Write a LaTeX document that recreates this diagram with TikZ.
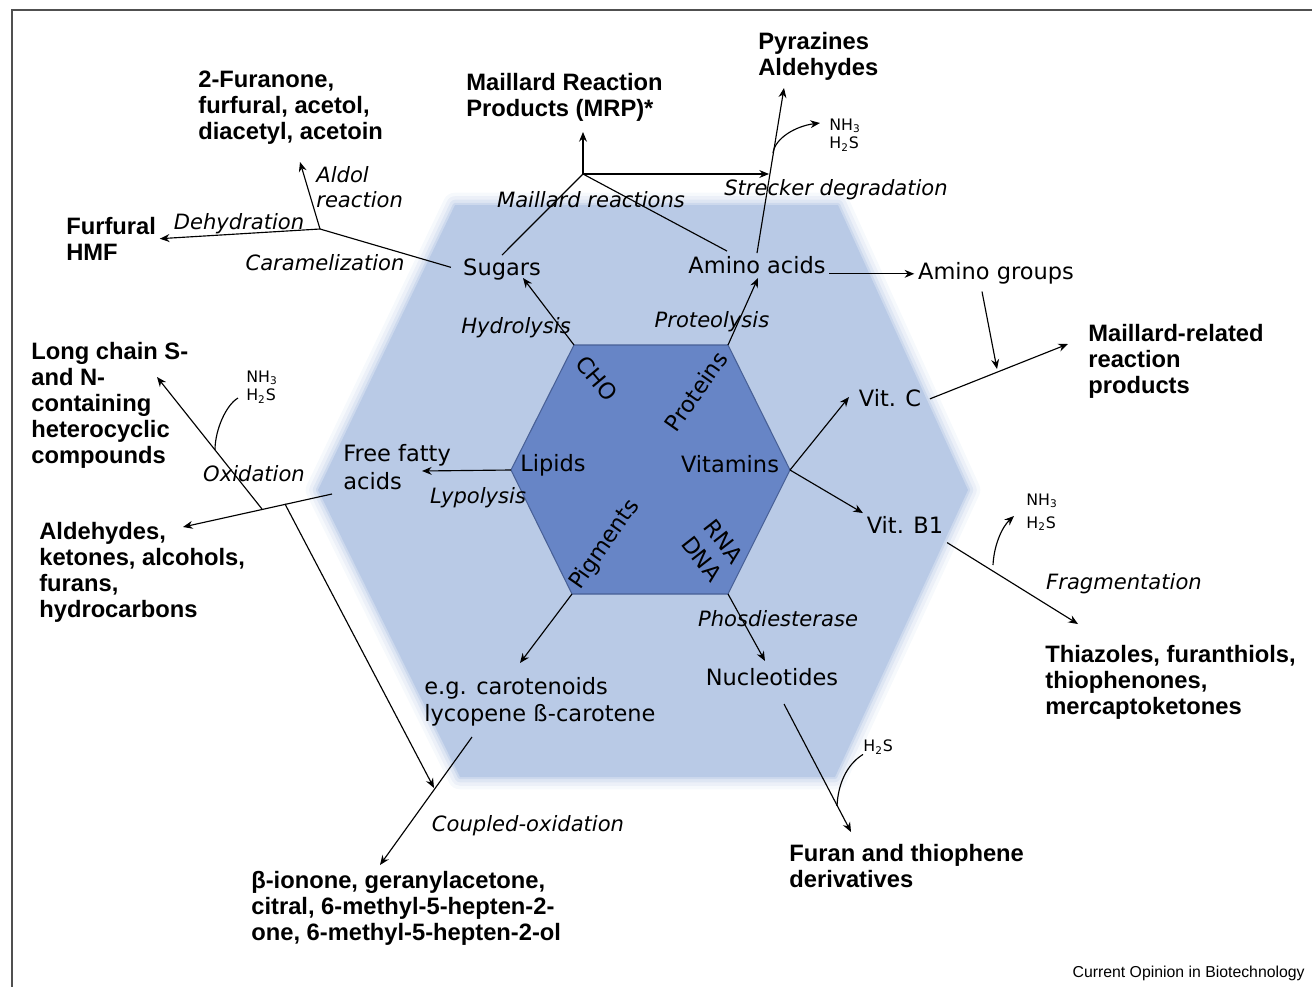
\documentclass[tikz,border=0pt]{standalone}
\usepackage{fontspec}
\setmainfont{DejaVu Sans}
\newfontfamily\prodfont{Liberation Sans}
\usetikzlibrary{arrows.meta}
\definecolor{hexlight}{RGB}{185,202,230}
\definecolor{hexdark}{RGB}{103,133,198}
\definecolor{hexline}{RGB}{72,96,150}
\definecolor{framegray}{RGB}{80,80,80}
\tikzset{
  hexcore/.style={fill=hexdark, draw=hexline, line width=0.6pt},
  cmpd/.style   ={font=\fontsize{12.8}{15.3}\selectfont, inner sep=2pt,
                  text height=9.6pt, text depth=2.8pt, yshift=-1.6pt},
  cmpdm/.style  ={font=\fontsize{12.8}{15.6}\selectfont, inner sep=0pt,
                  align=left, anchor=west},
  rxn/.style    ={font=\fontsize{12}{14.2}\selectfont\itshape, inner sep=1pt,
                  text height=9pt, text depth=2.6pt, yshift=-1.6pt},
  rxnm/.style   ={font=\fontsize{12}{14.2}\selectfont\itshape, inner sep=0pt,
                  align=left, anchor=west},
  prod/.style   ={font=\prodfont\bfseries\fontsize{13.5}{14.75}\selectfont,
                  inner sep=0pt, align=left, anchor=north west},
  chem/.style   ={font=\fontsize{9}{10.3}\selectfont, inner sep=0pt,
                  align=left, anchor=west},
  capt/.style   ={font=\prodfont\fontsize{9}{11}\selectfont, inner sep=0pt,
                  anchor=base east},
  arr/.style    ={-{Stealth[length=5.5pt, width=4.5pt, inset=1.8pt]},
                  line width=0.65pt},
  ln/.style     ={line width=0.65pt},
}
\begin{document}
\begin{tikzpicture}[x=0.02cm, y=-0.02cm]
  \useasboundingbox (0,0) rectangle (1312,987);
  \draw[framegray, line width=1.2pt] (12,987) -- (12,10) -- (1312,10);

  \coordinate (H1) at (455,205);
  \coordinate (H2) at (838,205);
  \coordinate (H3) at (968,490);
  \coordinate (H4) at (835,777);
  \coordinate (H5) at (460,777);
  \coordinate (H6) at (318,490);
  \foreach \w/\o in {14pt/0.12, 10pt/0.18, 6pt/0.28, 2.5pt/0.45}
    \draw[hexlight, line width=\w, opacity=\o, line join=round]
      (H1) -- (H2) -- (H3) -- (H4) -- (H5) -- (H6) -- cycle;
  \fill[hexlight] (H1) -- (H2) -- (H3) -- (H4) -- (H5) -- (H6) -- cycle;

  \coordinate (h1) at (574,345);
  \coordinate (h2) at (728,345);
  \coordinate (h3) at (790,470);
  \coordinate (h4) at (728,594);
  \coordinate (h5) at (572,594);
  \coordinate (h6) at (511,470);
  \draw[hexcore] (h1) -- (h2) -- (h3) -- (h4) -- (h5) -- (h6) -- cycle;

  \node[cmpd, rotate=-50] (cho) at (595,377) {CHO};
  \node[cmpd, rotate=55] (prt) at (698,390) {Proteins};
  \node[cmpd] (lip) at (553,463) {Lipids};
  \node[cmpd] (vit) at (730,464) {Vitamins};
  \node[cmpd, rotate=55] (pig) at (605,542) {Pigments};
  \node[cmpdm, font=\fontsize{12.8}{16}\selectfont, align=center,
        anchor=center, rotate=-52] (rna) at (713,550) {RNA\\DNA};

  \node[cmpd] (sug) at (502,267) {Sugars};
  \node[cmpd] (amac) at (757,265) {Amino acids};
  \node[cmpd] (amgr) at (996,271) {Amino groups};
  \node[cmpd] (vitc) at (890,398) {Vit. C};
  \node[cmpd] (vitb) at (905,525) {Vit. B1};
  \node[cmpd] (nuc) at (772,677) {Nucleotides};
  \node[cmpdm] (ffa) at (343,467) {Free fatty\\acids};
  \node[cmpdm] (car) at (424,702) {e.g. carotenoids\\lycopene ß-carotene};

  \node[rxnm] (aldr) at (316,187) {Aldol\\reaction};
  \node[rxn] (dehy) at (239,221) {Dehydration};
  \node[rxn] (cara) at (325,262) {Caramelization};
  \node[rxn] (mair) at (591,199) {Maillard reactions};
  \node[rxn] (strd) at (836,187) {Strecker degradation};
  \node[rxn] (hydr) at (516,325) {Hydrolysis};
  \node[rxn] (prtl) at (712,319) {Proteolysis};
  \node[rxn] (oxid) at (254,473) {Oxidation};
  \node[rxn] (lypo) at (478,495) {Lypolysis};
  \node[rxn] (frag) at (1124,581) {Fragmentation};
  \node[rxn] (phos) at (778,618) {Phosdiesterase};
  \node[rxn] (coup) at (528,823) {Coupled-oxidation};

  \node[prod] (furn) at (198,71) {2-Furanone,\\furfural, acetol,\\diacetyl, acetoin};
  \node[prod] (hmf) at (66,217) {Furfural\\HMF};
  \node[prod] (mrp) at (466,73) {Maillard Reaction\\Products (MRP)*};
  \node[prod] (pyr) at (758,32) {Pyrazines\\Aldehydes};
  \node[prod] (mrrp) at (1088,324) {Maillard-related\\reaction\\products};
  \node[prod] (lcsn) at (31,342)
    {Long chain S-\\and N-\\containing\\heterocyclic\\compounds};
  \node[prod] (aldk) at (39,522)
    {Aldehydes,\\ketones, alcohols,\\furans,\\hydrocarbons};
  \node[prod] (thia) at (1045,645)
    {Thiazoles, furanthiols,\\thiophenones,\\mercaptoketones};
  \node[prod] (iono) at (251,871)
    {β-ionone, geranylacetone,\\citral, 6-methyl-5-hepten-2-\\one, 6-methyl-5-hepten-2-ol};
  \node[prod] (furd) at (789,844) {Furan and thiophene\\derivatives};
  \node[capt] (src) at (1305,977) {Current Opinion in Biotechnology};

  \node[chem] (nh1) at (829,135) {NH\textsubscript{3}\\H\textsubscript{2}S};
  \node[chem] (nh2) at (246,387) {NH\textsubscript{3}\\H\textsubscript{2}S};
  \node[chem, font=\fontsize{9}{13}\selectfont] (nh3) at (1026,512)
    {NH\textsubscript{3}\\H\textsubscript{2}S};
  \node[chem] (hs4) at (863,747) {H\textsubscript{2}S};

  \coordinate (jcar) at (320,229);
  \coordinate (tald) at (300,162);
  \coordinate (jmai) at (583,174);
  \coordinate (tmrp) at (583,132);
  \coordinate (tstr) at (769,174);
  \coordinate (tpyr) at (784,88);
  \coordinate (jstr) at (773,153);
  \coordinate (tnh1) at (820,123);
  \coordinate (tvc) at (997,369);
  \coordinate (tmr) at (1068,344);
  \coordinate (tvitc) at (849,397);
  \coordinate (tthz) at (1078,624);
  \coordinate (jvb) at (993,565);
  \coordinate (tnh3) at (1014,516);
  \coordinate (tsug) at (523,278);
  \coordinate (tamac) at (758,278);
  \coordinate (tffa) at (422,471);
  \coordinate (sffa) at (332,494);
  \coordinate (taldk) at (183,527);
  \coordinate (jox1) at (262,509);
  \coordinate (jox2) at (285,504);
  \coordinate (jox3) at (215,450);
  \coordinate (tlcs) at (157,377);
  \coordinate (tion1) at (434,788);
  \coordinate (enh2) at (238,398);
  \coordinate (tcar) at (520,663);
  \coordinate (scar) at (472,737);
  \coordinate (tion2) at (380,865);
  \coordinate (tnuc) at (765,661);
  \coordinate (snuc) at (784,704);
  \coordinate (tfth) at (851,832);
  \coordinate (jnuc) at (837,806);

  \draw[ln, shorten <=5pt] (sug.west) -- (jcar);
  \draw[arr, shorten >=2pt] (jcar) -- (hmf.east);
  \draw[arr] (jcar) -- (tald);
  \draw[ln] (sug.north) -- (jmai);
  \draw[ln] (amac.north) ++(-30,-2) -- (jmai);
  \draw[arr] (jmai) -- (tmrp);
  \draw[arr] (jmai) -- (tstr);
  \draw[arr] (amac.north) -- (tpyr);
  \draw[arr] (jstr) .. controls (775,138) and (796,126) .. (tnh1);
  \draw[arr] (amac.east |- amgr) -- (amgr.west);
  \draw[arr] (amgr.south) ++(-14,3) -- (tvc);
  \draw[arr, shorten <=3pt] (vitc.east) -- (tmr);
  \draw[arr] (h3) -- (tvitc);
  \draw[arr] (h3) -- (vitb.north west);
  \draw[arr] (vitb.south east) -- (tthz);
  \draw[arr] (jvb) .. controls (994,545) and (1002,527) .. (tnh3);
  \draw[arr] (h1) -- (tsug);
  \draw[arr] (h2) -- (tamac);
  \draw[arr] (h6) -- (tffa);
  \draw[arr] (sffa) -- (taldk);
  \draw[arr] (jox1) -- (tlcs);
  \draw[arr] (jox2) -- (tion1);
  \draw[ln] (jox3) .. controls (215,430) and (226,405) .. (enh2);
  \draw[arr] (h5) -- (tcar);
  \draw[arr] (scar) -- (tion2);
  \draw[arr] (h4) -- (tnuc);
  \draw[arr] (snuc) -- (tfth);
  \draw[ln] (hs4.south west) .. controls (846,765) and (838,785) .. (jnuc);
\end{tikzpicture}
\end{document}
